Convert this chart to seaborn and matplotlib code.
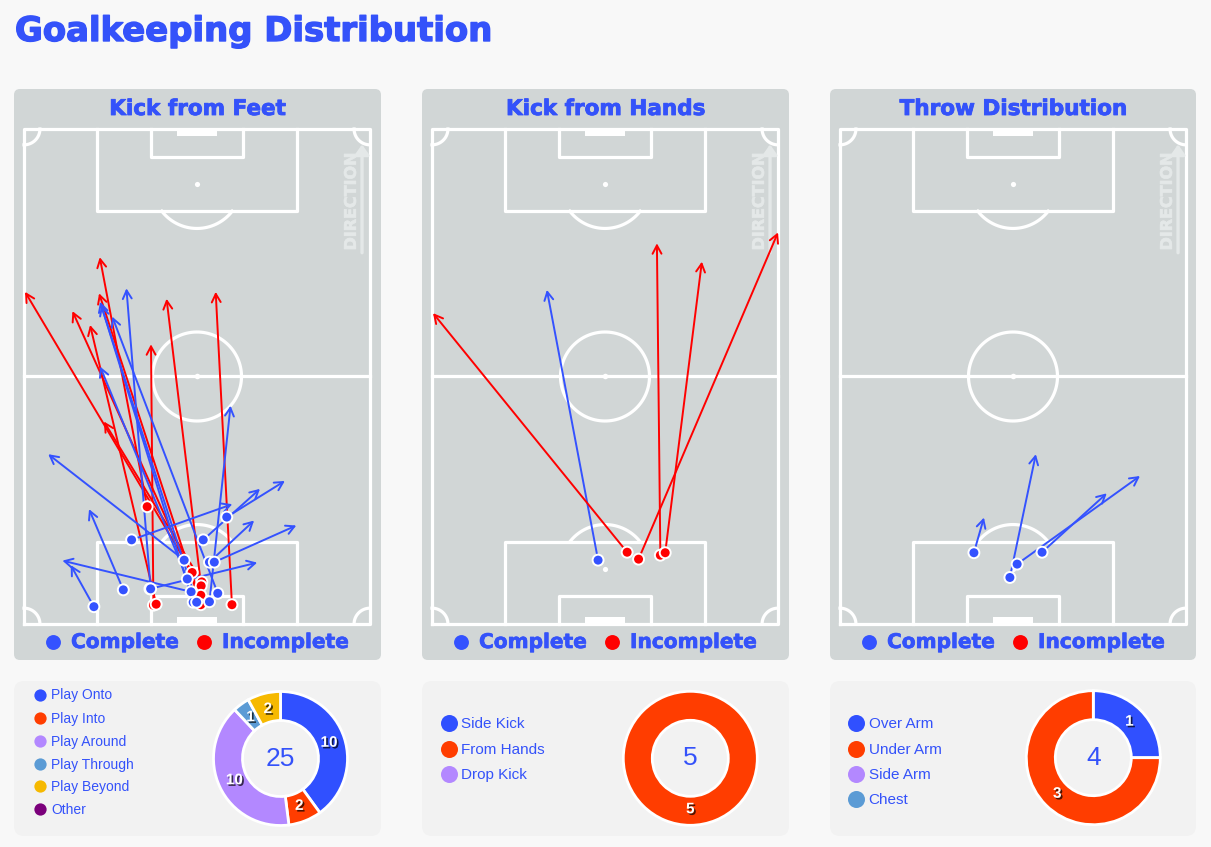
import numpy as np
import pandas as pd
import matplotlib
matplotlib.use("Agg")
import matplotlib.pyplot as plt
import seaborn as sns
from matplotlib.patches import FancyBboxPatch, Rectangle
import matplotlib.patheffects as pe

sns.set_style("white")
plt.rcParams['font.family'] = ['DejaVu Sans']

# ---------------- DATA ----------------
# pitch coordinates: x across the pitch 0-100, y along the pitch 0-100 (own goal at 0)
feet_start_x = [35.6, 37.4, 38.2, 48.6, 51.4, 51.2, 51.1, 51.1, 60.1,
                20.2, 28.7, 31.1, 36.4, 36.6, 46.3, 51.8, 58.6, 53.6, 55.0, 47.2, 48.3, 56.0, 53.6, 48.9, 49.9]
feet_start_y = [23.7, 3.8, 4.0, 10.4, 8.5, 7.7, 5.8, 3.9, 3.9,
                3.5, 6.9, 17.0, 7.1, 7.1, 12.9, 17.0, 21.6, 12.5, 12.5, 9.1, 6.5, 6.2, 4.5, 4.4, 4.4]
feet_end_x = [21.9, 36.7, 19.1, 0.3, 23.1, 41.2, 14.0, 21.7, 55.4,
              13.5, 18.8, 60.2, 67.4, 29.6, 7.0, 68.2, 75.4, 66.5, 78.7, 22.0, 11.1, 25.5, 59.7, 22.0, 22.3]
feet_end_y = [74.1, 56.5, 60.4, 67.1, 40.9, 65.7, 63.2, 66.8, 67.1,
              11.9, 23.2, 24.2, 12.4, 67.8, 34.3, 27.3, 28.9, 20.9, 19.9, 52.0, 12.8, 62.1, 44.1, 65.1, 64.4]
feet_outcome = ["Incomplete"] * 9 + ["Complete"] * 16

hands_start_x = [48.0, 56.4, 59.7, 66.0, 67.4]
hands_start_y = [12.9, 14.5, 13.1, 13.9, 14.4]
hands_end_x = [33.2, 0.3, 100.0, 65.0, 78.0]
hands_end_y = [67.5, 62.8, 79.1, 76.9, 73.2]
hands_outcome = ["Complete", "Incomplete", "Incomplete", "Incomplete", "Incomplete"]

throw_start_x = [38.7, 49.1, 51.2, 58.4]
throw_start_y = [14.4, 9.4, 12.1, 14.5]
throw_end_x = [41.6, 56.6, 86.7, 77.1]
throw_end_y = [21.5, 34.3, 29.9, 26.4]
throw_outcome = ["Complete"] * 4

feet_types = ["Play Onto", "Play Into", "Play Around", "Play Through", "Play Beyond", "Other"]
feet_counts = [10, 2, 10, 1, 2, 0]
hands_types = ["Side Kick", "From Hands", "Drop Kick"]
hands_counts = [0, 5, 0]
throw_types = ["Over Arm", "Under Arm", "Side Arm", "Chest"]
throw_counts = [1, 3, 0, 0]

panel_titles = ["Kick from Feet", "Kick from Hands", "Throw Distribution"]
main_title = "Goalkeeping Distribution"

# ---------------- STYLE ----------------
W, H = 1211, 847
BLUE = "#3452FA"
RED = "#FF0000"
PAL = {"Complete": "#3452FF", "Incomplete": RED}
TYPE_COL = {"Play Onto": "#3050FF", "Play Into": "#FF3D00", "Play Around": "#B388FF",
            "Play Through": "#5B9BD5", "Play Beyond": "#F6B900", "Other": "#7B007B",
            "Side Kick": "#3050FF", "From Hands": "#FF3D00", "Drop Kick": "#B388FF",
            "Over Arm": "#3050FF", "Under Arm": "#FF3D00", "Side Arm": "#B388FF", "Chest": "#5B9BD5"}
PAGE_BG = "#F8F8F8"
PANEL_BG = "#D1D6D6"
DONUT_BG = "#F2F2F2"
SANS = ['Liberation Sans', 'DejaVu Sans']


def heavy(lw, col=BLUE):
    return [pe.withStroke(linewidth=lw, foreground=col)]


fig = plt.figure(figsize=(W / 100, H / 100), dpi=100, facecolor=PAGE_BG)
bg = fig.add_axes([0, 0, 1, 1])
bg.set_xlim(0, W)
bg.set_ylim(H, 0)
bg.axis('off')


def px_axes(l, t, w, h):
    return fig.add_axes([l / W, 1 - (t + h) / H, w / W, h / H])


bg.text(15, 41, main_title, fontsize=24.4, fontweight='bold', color=BLUE, ha='left', va='baseline',
        path_effects=heavy(1.0))

panel_x = [14, 422, 830]
panel_w = [367, 367, 366]


def arc(ax, cx, cy, rx, ry, t0, t1, **kw):
    t = np.radians(np.linspace(t0, t1, 120))
    ax.plot(cx + rx * np.cos(t), cy + ry * np.sin(t), **kw)


def draw_pitch(ax):
    kw = dict(color='white', lw=2.3, clip_on=False, zorder=1, solid_capstyle='projecting')
    ax.plot([0, 100, 100, 0, 0], [0, 0, 100, 100, 0], **kw)
    ax.plot([0, 100], [50, 50], **kw)
    rx, ry = 12.86, 8.99
    arc(ax, 50, 50, rx, ry, 0, 360, **kw)
    ax.scatter([50], [50], s=16, color='white', zorder=1, linewidths=0)
    for y0, s in [(0, 1), (100, -1)]:
        ax.plot([21.1, 21.1, 78.9, 78.9], [y0, y0 + s * 16.6, y0 + s * 16.6, y0], **kw)
        ax.plot([36.8, 36.8, 63.2, 63.2], [y0, y0 + s * 5.7, y0 + s * 5.7, y0], **kw)
        ax.add_patch(Rectangle((44.2, y0 if s == 1 else 100 - 1.5), 11.6, 1.5,
                               color='white', lw=0, clip_on=False, zorder=1))
        ax.scatter([50], [y0 + s * 11.1], s=14, color='white', zorder=1, linewidths=0)
        if s == 1:
            arc(ax, 50, 11.1, rx, ry, 37.7, 142.3, **kw)
        else:
            arc(ax, 50, 88.9, rx, ry, 217.7, 322.3, **kw)
    crx, cry = 4.6, 3.2
    arc(ax, 0, 0, crx, cry, 0, 90, **kw)
    arc(ax, 100, 0, crx, cry, 90, 180, **kw)
    arc(ax, 100, 100, crx, cry, 180, 270, **kw)
    arc(ax, 0, 100, crx, cry, 270, 360, **kw)
    dcol = "#E4E8E8"
    ax.text(94.6, 85.4, "DIRECTION", rotation=90, ha='center', va='center', fontsize=11.5,
            fontweight='bold', color=dcol, zorder=1, path_effects=heavy(0.5, dcol))
    ax.annotate('', xy=(97.7, 96.9), xytext=(97.7, 75.0),
                arrowprops=dict(arrowstyle='-|>,head_length=0.5,head_width=0.35', color=dcol,
                                lw=2.4, shrinkA=0, shrinkB=0, mutation_scale=12),
                zorder=1, annotation_clip=False)


def draw_passes(ax, sx, sy, ex, ey, outcome):
    df = pd.DataFrame(dict(x=sx, y=sy, ex=ex, ey=ey, outcome=outcome))
    for r in df.itertuples():
        ax.annotate('', xy=(r.ex, r.ey), xytext=(r.x, r.y),
                    arrowprops=dict(arrowstyle='->,head_length=0.6,head_width=0.32',
                                    color=PAL[r.outcome], lw=1.4, shrinkA=0, shrinkB=0,
                                    mutation_scale=10),
                    zorder=3, annotation_clip=False)
    sns.scatterplot(data=df, x='x', y='y', hue='outcome', palette=PAL, s=62,
                    edgecolor='white', linewidth=1.4, legend=False, ax=ax, zorder=4, clip_on=False)


def draw_donut(cx, cy, types, counts):
    ax = px_axes(cx - 70, cy - 70, 140, 140)
    vals = [c for c in counts if c > 0]
    cols = [TYPE_COL[t] for t, c in zip(types, counts) if c > 0]
    wedges, _ = ax.pie(vals, colors=cols, startangle=90, counterclock=False, radius=67 / 70,
                       wedgeprops=dict(width=29 / 70, edgecolor='white', linewidth=2))
    for w, v in zip(wedges, vals):
        ang = np.radians((w.theta1 + w.theta2) / 2)
        r = 51 / 70
        ax.text(r * np.cos(ang), r * np.sin(ang), str(v), ha='center', va='center',
                fontsize=11, fontweight='bold', color='white', family=SANS,
                path_effects=[pe.withSimplePatchShadow(offset=(1.2, -1.2), shadow_rgbFace='black', alpha=0.7)])
    ax.text(0, 0, str(sum(counts)), ha='center', va='center', fontsize=19, color=BLUE, family=SANS)
    ax.set_xlim(-1, 1)
    ax.set_ylim(-1, 1)
    ax.set_aspect('equal')
    ax.axis('off')


def donut_legend(x, ys, types, fs, ms):
    for t, y in zip(types, ys):
        bg.scatter([x], [y], s=ms, color=TYPE_COL[t], zorder=3, linewidths=0)
        bg.text(x + 9.5 + (ms ** 0.5) * 0.25, y + 0.5, t, fontsize=fs, color=BLUE, family=SANS,
                ha='left', va='center', zorder=3)


passes = [(feet_start_x, feet_start_y, feet_end_x, feet_end_y, feet_outcome),
          (hands_start_x, hands_start_y, hands_end_x, hands_end_y, hands_outcome),
          (throw_start_x, throw_start_y, throw_end_x, throw_end_y, throw_outcome)]

for i in range(3):
    x0, pw = panel_x[i], panel_w[i]
    bg.add_patch(FancyBboxPatch((x0, 89), pw, 571, boxstyle="round,pad=0,rounding_size=6",
                                fc=PANEL_BG, ec='none', zorder=1))
    bg.add_patch(FancyBboxPatch((x0, 681), pw, 155, boxstyle="round,pad=0,rounding_size=10",
                                fc=DONUT_BG, ec='none', zorder=1))
    bg.text(x0 + pw / 2, 115, panel_titles[i], fontsize=15.5, fontweight='bold', color=BLUE,
            ha='center', va='baseline', zorder=3, path_effects=heavy(0.6))
    # pass legend
    bg.scatter([x0 + 39], [642], s=115, color=PAL["Complete"], zorder=3, linewidths=0)
    bg.text(x0 + 57, 648, "Complete", fontsize=14.5, fontweight='bold', color=BLUE,
            ha='left', va='baseline', zorder=3, path_effects=heavy(0.5))
    bg.scatter([x0 + 190], [642], s=115, color=RED, zorder=3, linewidths=0)
    bg.text(x0 + 208, 648, "Incomplete", fontsize=14.5, fontweight='bold', color=BLUE,
            ha='left', va='baseline', zorder=3, path_effects=heavy(0.5))

    ax = px_axes(x0 + 10, 129, 346, 495)
    ax.set_facecolor('none')
    draw_pitch(ax)
    draw_passes(ax, *passes[i])
    ax.set_xlim(0, 100)
    ax.set_ylim(0, 100)
    ax.axis('off')

# donut legends
donut_legend(39.5, [695, 718, 741.5, 764, 786.5, 809], feet_types, 10, 78)
donut_legend(448.5, [723.3, 749.3, 774.3], hands_types, 11, 150)
donut_legend(856, [723.3, 749.3, 774.3, 799.5], throw_types, 11, 150)

draw_donut(280.5, 758.5, feet_types, feet_counts)
draw_donut(690.3, 758.3, hands_types, hands_counts)
draw_donut(1093.3, 757.7, throw_types, throw_counts)

fig.savefig("out.png", dpi=100, facecolor=PAGE_BG)
